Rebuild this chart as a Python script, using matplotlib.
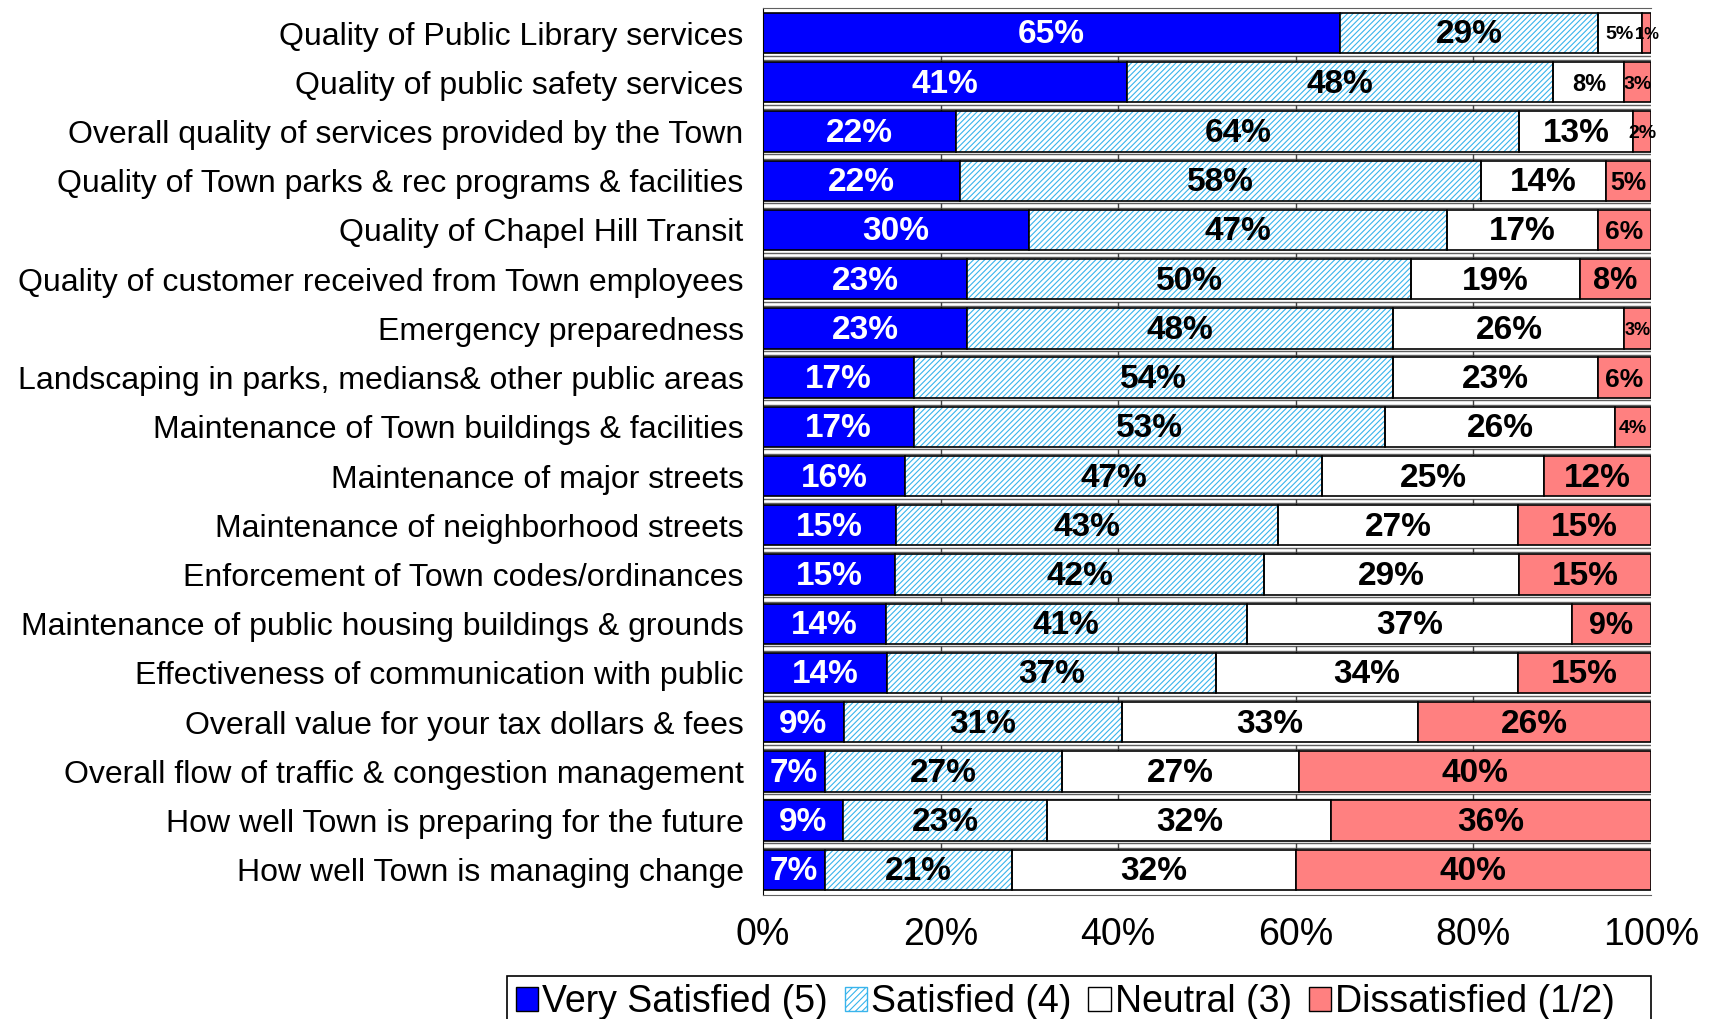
from matplotlib import pyplot as plt
from matplotlib.patches import Patch, Rectangle
import numpy as np

# Survey items, top to bottom.
categories = [
    'Quality of Public Library services',
    'Quality of public safety services',
    'Overall quality of services provided by the Town',
    'Quality of Town parks & rec programs & facilities',
    'Quality of Chapel Hill Transit',
    'Quality of customer received from Town employees',
    'Emergency preparedness',
    'Landscaping in parks, medians& other public areas',
    'Maintenance of Town buildings & facilities',
    'Maintenance of major streets',
    'Maintenance of neighborhood streets',
    'Enforcement of Town codes/ordinances',
    'Maintenance of public housing buildings & grounds',
    'Effectiveness of communication with public',
    'Overall value for your tax dollars & fees',
    'Overall flow of traffic & congestion management',
    'How well Town is preparing for the future',
    'How well Town is managing change',
]

very_satisfied = [65, 41, 22, 22, 30, 23, 23, 17, 17, 16, 15, 15, 14, 14, 9, 7, 9, 7]
satisfied = [29, 48, 64, 58, 47, 50, 48, 54, 53, 47, 43, 42, 41, 37, 31, 27, 23, 21]
neutral = [5, 8, 13, 14, 17, 19, 26, 23, 26, 25, 27, 29, 37, 34, 33, 27, 32, 32]
dissatisfied = [1, 3, 2, 5, 6, 8, 3, 6, 4, 12, 15, 15, 9, 15, 26, 40, 36, 40]

series_names = ['Very Satisfied (5)', 'Satisfied (4)', 'Neutral (3)', 'Dissatisfied (1/2)']
x_ticks = [0, 0.2, 0.4, 0.6, 0.8, 1.0]
x_tick_labels = ['0%', '20%', '40%', '60%', '80%', '100%']

plt.rcParams['font.family'] = ['Liberation Sans', 'DejaVu Sans']
plt.rcParams['hatch.linewidth'] = 0.8

# Smaller labels where the segment is thin (row, series): size.
small_labels = {
    (0, 2): 14, (0, 3): 12, (1, 2): 17, (1, 3): 14, (2, 3): 14,
    (3, 3): 18, (4, 3): 19, (5, 3): 22, (6, 3): 13, (7, 3): 19,
    (8, 3): 14, (12, 3): 22,
}

def main():
    values = np.array([very_satisfied, satisfied, neutral, dissatisfied], dtype = float)
    shares = values / values.sum(axis = 0)
    starts = np.vstack([np.zeros(len(categories)), np.cumsum(shares, axis = 0)[:-1]])
    y = np.arange(len(categories))
    height = 0.82

    fig = plt.figure(figsize = (17.13, 10.19), dpi = 100)
    ax = fig.add_axes([0.4454, 0.1217, 0.5184, 0.8703])

    # Solid segments.
    ax.barh(y, shares[0], left = starts[0], height = height,
        color = '#0000FF', edgecolor = 'black', linewidth = 1.2, zorder = 2)

    # Hatched segment: draw hatch first, then a black outline on top.
    ax.barh(y, shares[1], left = starts[1], height = height,
        color = 'white', edgecolor = '#38B4EC', hatch = '//////', linewidth = 0, zorder = 2)
    ax.barh(y, shares[1], left = starts[1], height = height,
        color = 'none', edgecolor = 'black', linewidth = 1.2, zorder = 3)

    ax.barh(y, shares[2], left = starts[2], height = height,
        color = 'white', edgecolor = 'black', linewidth = 1.2, zorder = 2)
    ax.barh(y, shares[3], left = starts[3], height = height,
        color = '#FF8080', edgecolor = 'black', linewidth = 1.2, zorder = 2)

    # Value labels.
    for s in range(4):
        for i in range(len(categories)):
            size = small_labels.get((i, s), 24)
            ax.text(starts[s][i] + shares[s][i] / 2, y[i] + 0.04, f'{int(values[s][i])}%',
                ha = 'center', va = 'center', fontsize = size, fontweight = 'bold',
                color = 'white' if s == 0 else 'black', zorder = 4)

    # Thin strips between rows, with small ticks, like the original stacked panels.
    gap_top = y[:-1] + 0.46
    gap_bottom = y[:-1] + 0.55
    ax.hlines(gap_top, 0, 1, color = '#606060', linewidth = 1, zorder = 1)
    ax.hlines(gap_bottom, 0, 1, color = '#606060', linewidth = 1, zorder = 1)
    for t in x_ticks[1:-1]:
        ax.vlines([t] * len(gap_top), gap_top, gap_bottom + 0.04,
            color = '#404040', linewidth = 1, zorder = 1)

    ax.set_xlim(0, 1)
    ax.set_ylim(len(categories) - 1 + 0.51, -0.505)
    ax.set_xticks(x_ticks)
    ax.set_xticklabels(x_tick_labels, fontsize = 27)
    ax.set_yticks(y)
    ax.set_yticklabels(categories, fontsize = 23)
    ax.tick_params(axis = 'x', length = 0, pad = 16)
    ax.tick_params(axis = 'y', length = 0, pad = 14)

    for side in ['top', 'bottom']:
        ax.spines[side].set_color('#606060')
    ax.spines['right'].set_visible(False)
    ax.spines['left'].set_color('black')

    # Legend, with its box running to the right edge of the plot.
    handles = [
        Patch(facecolor = '#0000FF', edgecolor = 'black'),
        Patch(facecolor = 'white', edgecolor = '#38B4EC', hatch = '/////'),
        Patch(facecolor = 'white', edgecolor = 'black'),
        Patch(facecolor = '#FF8080', edgecolor = 'black'),
    ]
    fig.legend(handles, series_names, loc = 'upper left',
        bbox_to_anchor = (0.299, 0.038), ncol = 4, frameon = False,
        handlelength = 0.6, handleheight = 0.6,
        handletextpad = 0.1, columnspacing = 0.45, borderpad = 0.1,
        borderaxespad = 0, prop = {'size': 27})
    fig.patches.append(Rectangle((0.296, -0.05), 0.668, 0.092,
        transform = fig.transFigure, fill = False, edgecolor = 'black', linewidth = 1.2))

    plt.savefig('out.png')

if __name__ == '__main__':
    main()
